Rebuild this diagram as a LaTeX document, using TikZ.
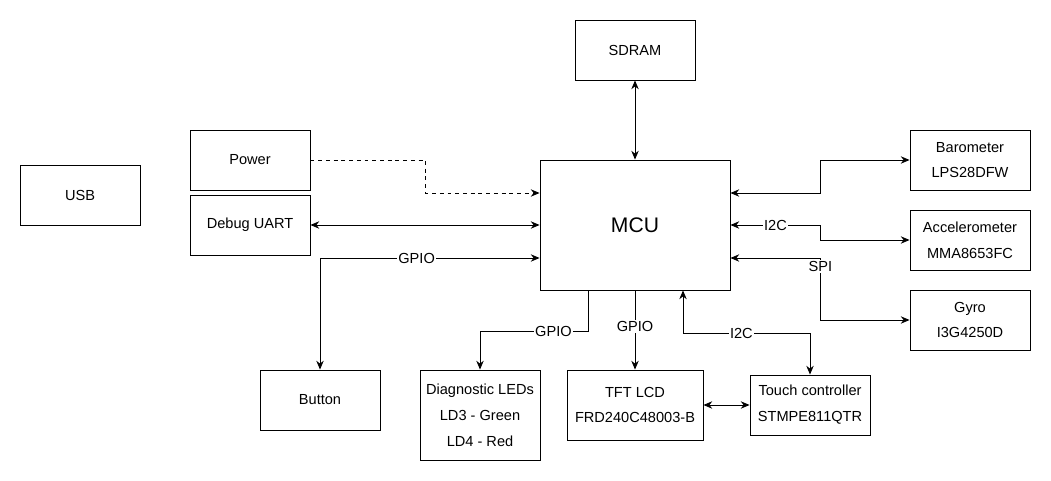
\documentclass[tikz,border=0pt]{standalone}
\usepackage{fontspec}
\setmainfont{Liberation Sans}
\usetikzlibrary{arrows.meta}

\begin{document}
\begin{tikzpicture}[
    line width=0.5pt,
    >={Stealth[length=5pt,width=4.2pt]},
    box/.style={draw, minimum width=2.4cm, minimum height=1.2cm, align=center,
        inner sep=1pt, font=\fontsize{8.3}{14.7}\selectfont},
    lbl/.style={fill=white, inner sep=0.8pt, font=\fontsize{8.3}{10}\selectfont}
]
    \useasboundingbox (0,0) rectangle (21.02,-9.62);

    % Blocks
    \node[box] (USB) at (1.6,-3.9) {USB};
    \node[box] (Power) at (5,-3.2) {Power};
    \node[box] (Debug) at (5,-4.5) {Debug UART};
    \node[box] (SDRAM) at (12.7,-1) {SDRAM};
    \node[box, minimum width=3.8cm, minimum height=2.6cm, font=\fontsize{12}{14}\selectfont] (MCU) at (12.7,-4.5) {MCU};

    % Sensors on the right
    \node[box] (Baro) at (19.4,-3.2) {Barometer\\LPS28DFW};
    \node[box] (Accel) at (19.4,-4.8) {Accelerometer\\MMA8653FC};
    \node[box] (Gyro) at (19.4,-6.4) {Gyro\\I3G4250D};

    % Peripherals below
    \node[box] (Button) at (6.4,-8) {Button};
    \node[box, minimum height=1.8cm] (LEDs) at (9.6,-8.3) {Diagnostic LEDs\\LD3 - Green\\LD4 - Red};
    \node[box, minimum width=2.72cm, minimum height=1.4cm] (TFT) at (12.7,-8.1) {TFT LCD\\FRD240C48003-B};
    \node[box] (Touch) at (16.2,-8.1) {Touch controller\\STMPE811QTR};

    % Left side connections
    \draw[->, dash pattern=on 2.2pt off 2.2pt] (Power.east) -- ++(2.3,0) |- ([yshift=0.64cm]MCU.west);
    \draw[<->] (Debug.east) -- (MCU.west);
    \draw[<->] ([yshift=-0.66cm]MCU.west) -| node[lbl, pos=0.28] {GPIO} (Button.north);

    % Memory
    \draw[<->] (SDRAM.south) -- (MCU.north);

    % Right side connections
    \draw[<->] ([yshift=0.64cm]MCU.east) -- ++(1.8,0) |- (Baro.west);
    \draw[<->] (MCU.east) -- node[lbl] {I2C} ++(1.8,0) |- (Accel.west);
    \draw[<->] ([yshift=-0.66cm]MCU.east) -- ++(1.8,0) |- node[lbl, pos=0.07] {SPI} (Gyro.west);

    % Bottom connections
    \draw[->] ([xshift=-0.94cm]MCU.south) -- ++(0,-0.82) -| node[lbl, pos=0.16] {GPIO} (LEDs.north);
    \draw[->] (MCU.south) -- node[lbl, pos=0.46] {GPIO} (TFT.north);
    \draw[<->] ([xshift=0.96cm]MCU.south) -- ++(0,-0.86) -| node[lbl, pos=0.23] {I2C} (Touch.north);
    \draw[<->] (TFT.east) -- (Touch.west);
\end{tikzpicture}
\end{document}
